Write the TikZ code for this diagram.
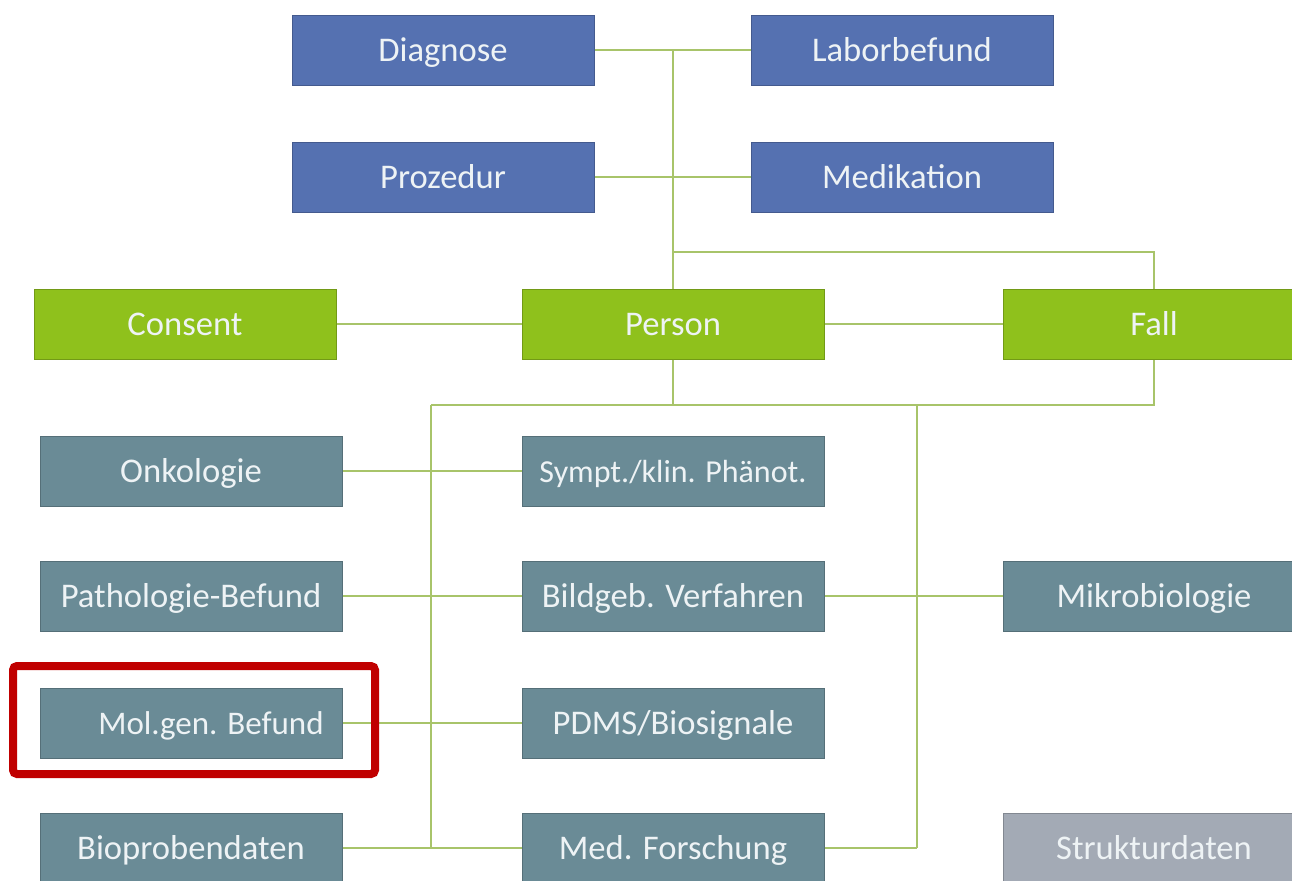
\documentclass[tikz,border=0pt]{standalone}
\usepackage{fontspec}
\setmainfont{Carlito}
\definecolor{topblue}{HTML}{5571B1}
\definecolor{coregreen}{HTML}{8FC11C}
\definecolor{modteal}{HTML}{6A8B96}
\definecolor{strgray}{HTML}{A3AAB5}
\definecolor{linkgreen}{HTML}{A8C46A}
\definecolor{markred}{HTML}{C00000}
\definecolor{boxtext}{HTML}{EEF3F5}

\begin{document}
\begin{tikzpicture}[x=0.5pt,y=-0.5pt,
		box/.style={rectangle,minimum width=151pt,minimum height=35pt,inner sep=0pt,
			text height=13pt,text depth=1.5pt,
			text=boxtext,font=\fontsize{17.3}{19}\selectfont,line width=0.5pt},
		bluebox/.style={box,fill=topblue,draw=topblue!80!black},
		greenbox/.style={box,fill=coregreen,draw=coregreen!80!black},
		tealbox/.style={box,fill=modteal,draw=modteal!80!black},
		graybox/.style={box,fill=strgray,draw=strgray!80!black},
		link/.style={draw=linkgreen,line width=1pt}]
	\useasboundingbox (0,0) rectangle (1292,880);
	% top layer
	\node[bluebox] (diag) at (443,50) {Diagnose};
	\node[bluebox] (labor) at (902,50) {Laborbefund};
	\node[bluebox] (proz) at (443,177) {Prozedur};
	\node[bluebox] (medi) at (902,177) {Medikation};
	% core
	\node[greenbox] (consent) at (185,324) {Consent};
	\node[greenbox] (person) at (673,324) {Person};
	\node[greenbox] (fall) at (1154,324) {Fall};
	% modules
	\node[tealbox] (onko) at (191,471) {Onkologie};
	\node[tealbox,font=\fontsize{16}{19}\selectfont] (sympt) at (673,471) {Sympt./klin. Phänot.};
	\node[tealbox] (patho) at (191,596) {Pathologie-Befund};
	\node[tealbox] (bild) at (673,596) {Bildgeb. Verfahren};
	\node[tealbox] (mikro) at (1154,596) {Mikrobiologie};
	\node[tealbox,font=\fontsize{16.5}{19}\selectfont] (molgen) at (191,723) {\hspace*{20pt}Mol.gen. Befund};
	\node[tealbox] (pdms) at (673,723) {PDMS/Biosignale};
	\node[tealbox] (bioprobe) at (191,848) {Bioprobendaten};
	\node[tealbox] (forsch) at (673,848) {Med. Forschung};
	\node[graybox] (struktur) at (1154,848) {Strukturdaten};
	% junctions
	\coordinate (top) at (673,50);
	\coordinate (split) at (673,252);
	\coordinate (hub) at (673,405);
	\coordinate (busl) at (431,405);
	\coordinate (busr) at (917,405);
	\coordinate (endl) at (431,848);
	\coordinate (endr) at (917,848);
	% connectors
	\draw[link] (diag.east) -- (labor.west);
	\draw[link] (proz.east) -- (medi.west);
	\draw[link] (top) -- (person.north);
	\draw[link] (split) -| (fall.north);
	\draw[link] (consent.east) -- (person.west);
	\draw[link] (person.east) -- (fall.west);
	\draw[link] (person.south) -- (hub);
	\draw[link] (busl) -- (busr) -| (fall.south);
	\draw[link] (busl) -- (endl);
	\draw[link] (busr) -- (endr);
	\draw[link] (onko.east) -- (sympt.west);
	\draw[link] (patho.east) -- (bild.west);
	\draw[link] (bild.east) -- (mikro.west);
	\draw[link] (molgen.east) -- (pdms.west);
	\draw[link] (bioprobe.east) -- (forsch.west);
	\draw[link] (forsch.east) -- (endr);
	% highlight
	\draw[markred,line width=4pt,rounded corners=2pt] (13,666) rectangle (375,774);
\end{tikzpicture}
\end{document}
